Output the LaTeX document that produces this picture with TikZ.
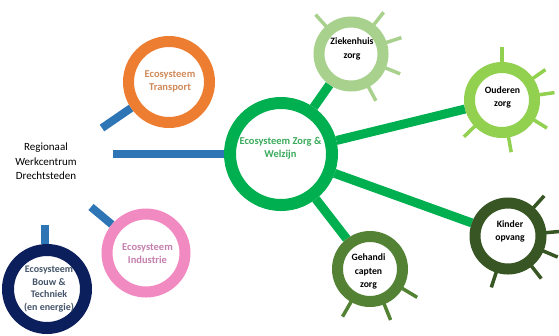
\documentclass[tikz,border=0pt]{standalone}
\usepackage{fontspec}
\setmainfont{Carlito}
\usetikzlibrary{backgrounds,calc}
\definecolor{blueC}{HTML}{2E75B6}
\definecolor{orangeC}{HTML}{ED7D31}
\definecolor{pinkC}{HTML}{F28AC2}
\definecolor{navyC}{HTML}{0B1F5C}
\definecolor{greenC}{HTML}{00B050}
\definecolor{zkC}{HTML}{A9D18E}
\definecolor{odC}{HTML}{92D050}
\definecolor{kdC}{HTML}{375623}
\definecolor{ghC}{HTML}{548235}
\definecolor{trT}{HTML}{D08A5A}
\definecolor{inT}{HTML}{C57FAD}
\definecolor{bwT}{HTML}{44546A}
\definecolor{ceT}{HTML}{3AAA5C}
\begin{document}
\begin{tikzpicture}[x=1pt,y=-1pt,
  ring/.style={circle,draw,fill=white,inner sep=0pt},
  ecotxt/.style={align=center,inner sep=0pt,font=\bfseries\fontsize{10.5}{13}\selectfont},
  subtxt/.style={align=center,inner sep=0pt,text=black,font=\bfseries\fontsize{9.7}{13.5}\selectfont},
  conn/.style={line width=9pt,draw=greenC},
  stick/.style={line width=8pt,draw=blueC},
  spk/.style={line width=3.5pt}]
\useasboundingbox (0,0) rectangle (559,335);

% ecosystem rings
\node[ring,draw=orangeC,line width=11pt,minimum size=81pt] (trans) at (169,82) {};
\node[ring,draw=greenC,line width=12pt,minimum size=102pt] (zorg) at (281,154) {};
\node[ring,draw=pinkC,line width=11pt,minimum size=78pt] (ind) at (146,253) {};
\node[ring,draw=navyC,line width=12pt,minimum size=78pt] (bouw) at (47,289) {};
% care rings
\node[ring,draw=zkC,line width=11pt,minimum size=64pt] (zk) at (351,54) {};
\node[ring,draw=odC,line width=11pt,minimum size=65pt] (od) at (502,100) {};
\node[ring,draw=kdC,line width=11pt,minimum size=66pt] (kd) at (508,236) {};
\node[ring,draw=ghC,line width=11pt,minimum size=65pt] (gh) at (370,269) {};

% texts
\node[ecotxt,text=trT] (ttr) at (170,81.5) {Ecosysteem\\Transport};
\node[ecotxt,text=ceT] (tze) at (280.5,148.5) {Ecosysteem Zorg \&\\Welzijn};
\node[ecotxt,text=inT] (tin) at (147.5,253.5) {Ecosysteem\\Industrie};
\node[ecotxt,text=bwT,font=\bfseries\fontsize{10}{12.7}\selectfont] (tbw) at (49,289) {Ecosysteem\\Bouw \&\\Techniek\\(en energie)};
\node[subtxt] (tzk) at (352,49) {Ziekenhuis\\zorg};
\node[subtxt] (tod) at (502.5,97.5) {Ouderen\\zorg};
\node[subtxt] (tkd) at (510,231.5) {Kinder\\opvang};
\node[subtxt] (tgh) at (368.5,271.5) {Gehandi\\capten\\zorg};
\node[align=center,inner sep=0pt,font=\fontsize{11}{14.5}\selectfont] (rwc) at (46,161.5) {Regionaal\\Werkcentrum\\Drechtsteden};

% free stick ends
\coordinate (strans) at (102,128);
\coordinate (sbar) at (113,154);
\coordinate (sind) at (91,207);
\coordinate (sbouw) at (45,225);

\begin{pgfonlayer}{background}
  \draw[stick] (strans) -- (trans);
  \draw[stick] (sbar) -- (zorg);
  \draw[stick] (sind) -- (ind);
  \draw[stick] (sbouw) -- (sbouw |- bouw.north);
  \draw[conn] (zorg) -- (zk);
  \draw[conn] (zorg) -- (od);
  \draw[conn] (zorg) -- (kd);
  \draw[conn] (zorg) -- (gh);
  \foreach \a in {132,52,18,-22,-62}
    \draw[spk,zkC] ($(zk)+(\a:34pt)$) -- ($(zk)+(\a:53pt)$);
  \foreach \a in {90,35,8,-32,-80,-136}
    \draw[spk,odC] ($(od)+(\a:34pt)$) -- ($(od)+(\a:53pt)$);
  \foreach \a in {48,5,-23,-52,-108}
    \draw[spk,kdC] ($(kd)+(\a:35pt)$) -- ($(kd)+(\a:54pt)$);
  \foreach \a in {-31,-68,-120}
    \draw[spk,ghC] ($(gh)+(\a:34pt)$) -- ($(gh)+(\a:55pt)$);
\end{pgfonlayer}
\end{tikzpicture}
\end{document}
